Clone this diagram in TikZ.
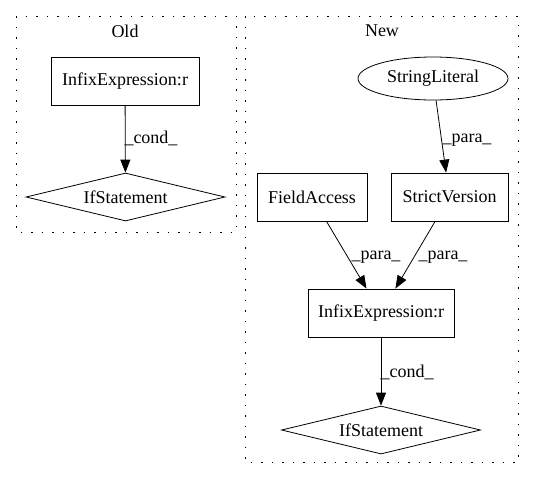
\documentclass[tikz,border=0pt]{standalone}
\usepackage{fontspec}
\setmainfont{Liberation Serif}
\usetikzlibrary{shapes.geometric,arrows.meta}
\begin{document}
\begin{tikzpicture}[x=1pt,y=-1pt,
  every node/.style={font=\fontsize{18}{21}\selectfont},
  box/.style={draw,line width=0.8pt,rectangle,inner sep=0pt},
  dia/.style={draw,line width=0.8pt,diamond,aspect=4.15,inner sep=0pt,minimum width=199pt,minimum height=48pt},
  ell/.style={draw,line width=0.8pt,ellipse,inner sep=0pt,minimum width=150pt,minimum height=43pt},
  cluster/.style={draw,line width=0.9pt,dash pattern=on 1.5pt off 9pt},
  edge/.style={draw,line width=0.8pt,-{Triangle[length=13pt,width=10pt]}},
  lbl/.style={inner sep=0pt}]
\useasboundingbox (0,0) rectangle (535,480);
% clusters
\draw[cluster] (16,16) rectangle (236,232);
\draw[cluster] (245,16) rectangle (518,462);
\node[lbl] (oldlbl) at (125,31) {Old};
\node[lbl] (newlbl) at (382,31) {New};
% Old
\node[box,minimum width=148pt,minimum height=48pt] (oie) at (125,81) {InfixExpression:r};
\node[dia] (oif) at (125.5,197) {IfStatement};
\draw[edge] (oie) -- (oif);
\node[lbl] (oc) at (151,138) {\_cond\_};
% New
\node[ell] (sl) at (433,78.5) {StringLiteral};
\node[box,minimum width=117pt,minimum height=48pt] (sv) at (449.5,197) {StrictVersion};
\node[box,minimum width=110pt,minimum height=48pt] (fa) at (312,197) {FieldAccess};
\node[box,minimum width=146pt,minimum height=48pt] (nie) at (381,313) {InfixExpression:r};
\node[dia] (nif) at (381,430) {IfStatement};
\draw[edge] (sl) -- (sv);
\draw[edge] (fa) -- (nie);
\draw[edge] (sv) -- (nie);
\draw[edge] (nie) -- (nif);
\node[lbl] (p1) at (467,140) {\_para\_};
\node[lbl] (p2) at (376,257) {\_para\_};
\node[lbl] (p3) at (443,257) {\_para\_};
\node[lbl] (nc) at (407,372) {\_cond\_};
\end{tikzpicture}
\end{document}
